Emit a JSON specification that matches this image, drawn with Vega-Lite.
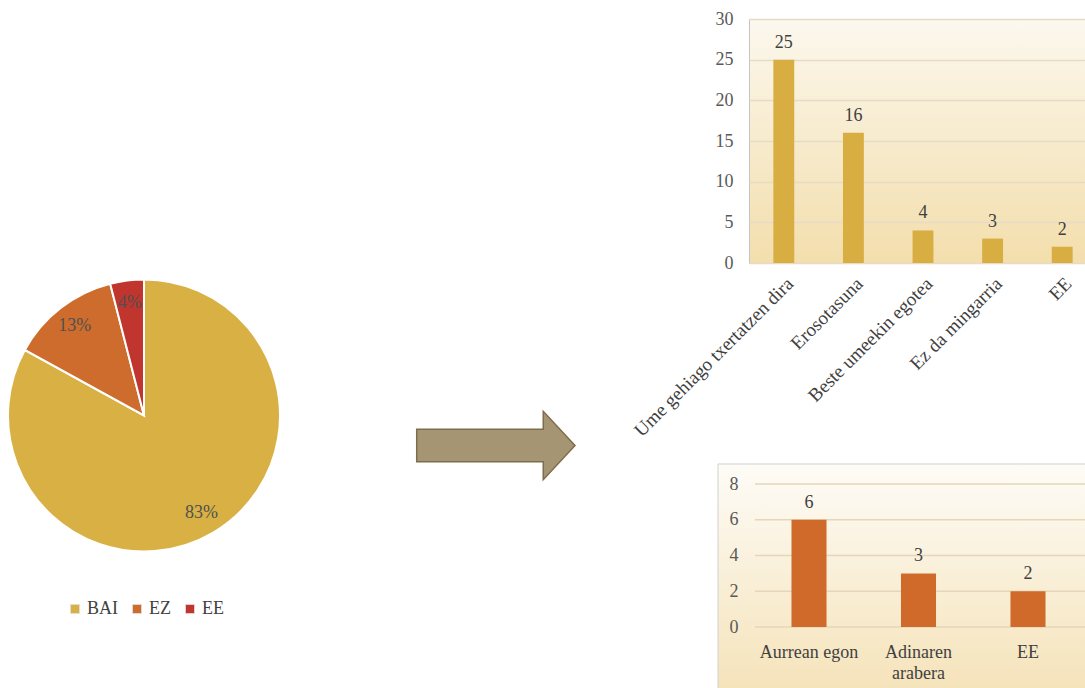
{
  "$schema": "https://vega.github.io/schema/vega-lite/v6.json",
  "autosize": {"type": "none"},
  "padding": {"left": 0, "top": 19, "right": 1085, "bottom": 669},
  "background": "#ffffff",
  "config": {
    "font": "Liberation Serif",
    "view": {"stroke": null},
    "axis": {"labelFont": "Liberation Serif", "titleFont": "Liberation Serif"},
    "legend": {"labelFont": "Liberation Serif"}
  },
  "bounds": "flush",
  "spacing": 20,
  "hconcat": [
    {
      "width": 288,
      "height": 793,
      "data": {
        "values": [
          {"erantzuna": "BAI", "ehunekoa": 0.83},
          {"erantzuna": "EZ", "ehunekoa": 0.13},
          {"erantzuna": "EE", "ehunekoa": 0.04}
        ]
      },
      "encoding": {
        "theta": {"field": "ehunekoa", "type": "quantitative", "stack": true},
        "order": {"field": "ehunekoa", "type": "quantitative", "sort": "descending"}
      },
      "layer": [
        {
          "mark": {"type": "arc", "outerRadius": 136, "stroke": "#ffffff", "strokeWidth": 2},
          "encoding": {
            "color": {
              "field": "erantzuna",
              "type": "nominal",
              "scale": {"domain": ["BAI", "EZ", "EE"], "range": ["#D9B043", "#CD6C2C", "#C0352D"]},
              "legend": {
                "orient": "none",
                "legendX": 66,
                "legendY": 581,
                "direction": "horizontal",
                "title": null,
                "symbolType": "square",
                "symbolSize": 81,
                "symbolStrokeColor": "#E0E0E0",
                "symbolStrokeWidth": 0.8,
                "labelFontSize": 18,
                "labelColor": "#404040",
                "labelOffset": 3,
                "columnPadding": 10,
                "padding": 0
              }
            }
          }
        },
        {
          "mark": {"type": "text", "radius": 113, "fontSize": 18, "fill": "#505050"},
          "encoding": {
            "detail": {"field": "erantzuna", "type": "nominal"},
            "text": {"field": "ehunekoa", "type": "quantitative", "format": ".0%"}
          }
        }
      ]
    },
    {
      "width": 421,
      "height": 853,
      "data": {"values": [{"ikurra": "gezia"}]},
      "mark": {
        "type": "point",
        "shape": "M-1.286,-0.205L0.313,-0.205L0.313,-0.432L0.714,0L0.313,0.432L0.313,0.205L-1.286,0.205Z",
        "size": 25060,
        "filled": true,
        "fill": "#A69572",
        "stroke": "#7F6C4C",
        "strokeWidth": 1.5,
        "opacity": 1
      },
      "encoding": {}
    },
    {
      "bounds": "flush",
      "spacing": 221,
      "vconcat": [
        {
          "width": 348,
          "height": 244,
          "view": {
            "fill": {
              "gradient": "linear", "x1": 0, "y1": 0, "x2": 0, "y2": 1,
              "stops": [{"offset": 0, "color": "#FCF8EE"}, {"offset": 1, "color": "#F3DEAC"}]
            },
            "stroke": "#C4C4C4",
            "strokeWidth": 1
          },
          "data": {
            "values": [
              {"arrazoia": "Ume gehiago txertatzen dira", "kopurua": 25},
              {"arrazoia": "Erosotasuna", "kopurua": 16},
              {"arrazoia": "Beste umeekin egotea", "kopurua": 4},
              {"arrazoia": "Ez da mingarria", "kopurua": 3},
              {"arrazoia": "EE", "kopurua": 2}
            ]
          },
          "encoding": {
            "x": {
              "field": "arrazoia",
              "type": "nominal",
              "sort": null,
              "scale": {"paddingInner": 0.7, "paddingOuter": 0.35},
              "axis": {
                "title": null,
                "labelAngle": -45,
                "labelFontSize": 19,
                "labelColor": "#404040",
                "labelPadding": 11,
                "ticks": false,
                "domain": false,
                "labelLimit": 400
              }
            },
            "y": {
              "field": "kopurua",
              "type": "quantitative",
              "scale": {"domain": [0, 30], "nice": false},
              "axis": {
                "title": null,
                "values": [0, 5, 10, 15, 20, 25, 30],
                "labelFontSize": 18,
                "labelColor": "#595959",
                "labelPadding": 16,
                "labelOverlap": false,
                "ticks": false,
                "domain": false,
                "grid": true,
                "gridColor": "#E6DCC6",
                "gridWidth": 1.3
              }
            }
          },
          "layer": [
            {"mark": {"type": "bar", "color": "#D8AD42"}},
            {
              "mark": {"type": "text", "baseline": "bottom", "dy": -8, "fontSize": 18, "fill": "#404040"},
              "encoding": {"text": {"field": "kopurua", "type": "quantitative"}}
            }
          ]
        },
        {
          "width": 339,
          "height": 143,
          "layer": [
            {
              "data": {"values": [{"panela": "atzealdea"}]},
              "mark": {
                "type": "rect",
                "color": {
                  "gradient": "linear", "x1": 0, "y1": 0, "x2": 0, "y2": 1,
                  "stops": [{"offset": 0, "color": "#FEFCF7"}, {"offset": 1, "color": "#F5E3BA"}]
                },
                "stroke": "#D0D0D0",
                "strokeWidth": 1
              },
              "encoding": {
                "x": {"datum": -0.0914, "type": "quantitative", "scale": {"domain": [0, 1], "nice": false, "zero": false}, "axis": null},
                "x2": {"datum": 1.2},
                "y": {
                  "datum": 9.12,
                  "type": "quantitative",
                  "scale": {"domain": [0, 8], "nice": false},
                  "axis": {"title": null, "values": [0, 2, 4, 6, 8], "labelFontSize": 18, "labelColor": "#595959", "labelPadding": 11, "labelOverlap": false, "ticks": false, "domain": false, "grid": false, "zindex": 1}
                },
                "y2": {"datum": -3.5}
              }
            },
            {
              "data": {"values": [{"balioa": 0}, {"balioa": 2}, {"balioa": 4}, {"balioa": 6}, {"balioa": 8}]},
              "mark": {"type": "rule", "color": "#E5D6BA", "strokeWidth": 1.3},
              "encoding": {
                "x": {"datum": 0.0177, "type": "quantitative", "scale": {"domain": [0, 1], "nice": false, "zero": false}, "axis": null},
                "x2": {"datum": 1.2},
                "y": {
                  "field": "balioa",
                  "type": "quantitative",
                  "scale": {"domain": [0, 8], "nice": false},
                  "axis": {"title": null, "values": [0, 2, 4, 6, 8], "labelFontSize": 18, "labelColor": "#595959", "labelPadding": 11, "labelOverlap": false, "ticks": false, "domain": false, "grid": false, "zindex": 1}
                }
              }
            },
            {
              "data": {
                "values": [
                  {"arrazoia": "Aurrean egon", "kopurua": 6},
                  {"arrazoia": "Adinaren arabera", "kopurua": 3},
                  {"arrazoia": "EE", "kopurua": 2}
                ]
              },
              "encoding": {
                "x": {
                  "field": "arrazoia",
                  "type": "nominal",
                  "sort": null,
                  "scale": {"paddingInner": 0.68, "paddingOuter": 0.388},
                  "axis": {
                    "title": null,
                    "labelAngle": 0,
                    "labelFontSize": 18,
                    "labelColor": "#404040",
                    "labelPadding": 16,
                    "labelLineHeight": 21,
                    "labelExpr": "length(datum.label) > 14 ? split(datum.label, ' ') : datum.label",
                    "ticks": false,
                    "domain": false,
                    "zindex": 1
                  }
                },
                "y": {
                  "field": "kopurua",
                  "type": "quantitative",
                  "scale": {"domain": [0, 8], "nice": false},
                  "axis": {"title": null, "values": [0, 2, 4, 6, 8], "labelFontSize": 18, "labelColor": "#595959", "labelPadding": 11, "labelOverlap": false, "ticks": false, "domain": false, "grid": false, "zindex": 1}
                }
              },
              "layer": [
                {"mark": {"type": "bar", "color": "#CF6A2B"}},
                {
                  "mark": {"type": "text", "baseline": "bottom", "dy": -8, "fontSize": 18, "fill": "#404040"},
                  "encoding": {"text": {"field": "kopurua", "type": "quantitative"}}
                }
              ]
            }
          ],
          "resolve": {"scale": {"x": "independent"}}
        }
      ]
    }
  ]
}
